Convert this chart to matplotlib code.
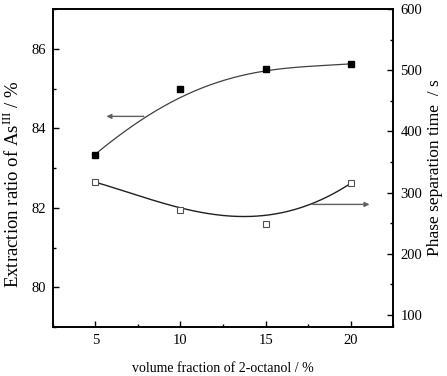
import numpy as np
import matplotlib
matplotlib.use('Agg')
import matplotlib.pyplot as plt
from matplotlib.ticker import MultipleLocator

plt.rcParams['font.family'] = ['Liberation Serif', 'DejaVu Serif']
plt.rcParams['mathtext.fontset'] = 'custom'
plt.rcParams['mathtext.rm'] = 'Liberation Serif'

# volume fraction of 2-octanol (%)
fraction = [5, 10, 15, 20]
# extraction ratio of As(III) (%) - filled squares, left axis
extraction = [83.33, 85.0, 85.5, 85.62]
# phase separation time (s) - open squares, right axis
sep_time = [317.6, 271.5, 248.4, 314.9]

# smoothed trend curves
curve_x = [5, 7.5, 10, 12.5, 15, 17.5, 20]
curve_extraction = [83.35, 84.15, 84.78, 85.2, 85.44, 85.56, 85.62]
curve_time = [317, 295, 275, 263, 262, 280, 315]

fig = plt.figure(figsize=(4.47, 3.76), dpi=100)
ax1 = fig.add_axes([0.118, 0.130, 0.762, 0.846])
ax2 = ax1.twinx()

# smooth curves
xs = np.linspace(5, 20, 200)
p1 = np.polyfit(curve_x, curve_extraction, 4)
p2 = np.polyfit(curve_x, curve_time, 4)
ax1.plot(xs, np.polyval(p1, xs), color='#404040', lw=0.9, zorder=2)
ax2.plot(xs, np.polyval(p2, xs), color='#202020', lw=1.0, zorder=2)

ax1.plot(fraction, extraction, 's', color='black', ms=4.8, zorder=3)
ax2.plot(fraction, sep_time, 's', mfc='white', mec='#505050', mew=0.8, ms=4.3, zorder=3)

# arrows indicating axes
ax1.annotate('', xy=(5.65, 84.3), xytext=(7.85, 84.3),
             arrowprops=dict(arrowstyle='-|>', color='#606060', lw=1.0,
                             mutation_scale=7, shrinkA=0, shrinkB=0))
ax2.annotate('', xy=(21.1, 280.6), xytext=(17.77, 280.6),
             arrowprops=dict(arrowstyle='-|>', color='#606060', lw=1.0,
                             mutation_scale=7, shrinkA=0, shrinkB=0))

ax1.set_xlim(2.5, 22.5)
ax1.set_ylim(79, 87)
ax2.set_ylim(80, 600)

ax1.xaxis.set_major_locator(MultipleLocator(5))
ax1.xaxis.set_minor_locator(MultipleLocator(2.5))
ax1.yaxis.set_major_locator(MultipleLocator(2))
ax1.yaxis.set_minor_locator(MultipleLocator(1))
ax2.yaxis.set_major_locator(MultipleLocator(100))
ax2.yaxis.set_minor_locator(MultipleLocator(50))

ax1.tick_params(which='both', direction='in', top=False, labelsize=10.5, width=1.0)
ax1.tick_params(which='major', length=4, pad=5)
ax1.tick_params(which='minor', length=2)
ax2.tick_params(which='both', direction='in', labelsize=10.5, width=1.0)
ax2.tick_params(which='major', length=4, pad=5)
ax2.tick_params(which='minor', length=2)

for ax in (ax1, ax2):
    for sp in ax.spines.values():
        sp.set_linewidth(1.2)

ax1.set_xlabel('volume fraction of 2-octanol / %', fontsize=10)
ax1.set_ylabel(r'Extraction ratio of As$^{\mathrm{III}}$ / %', fontsize=13.5)
ax2.set_ylabel('Phase separation time  / s', fontsize=12.5)
ax1.xaxis.set_label_coords(0.5, -0.110)
ax1.yaxis.set_label_coords(-0.088, 0.45)
ax2.yaxis.set_label_coords(1.099, 0.5)

fig.savefig('out.png', dpi=100)
